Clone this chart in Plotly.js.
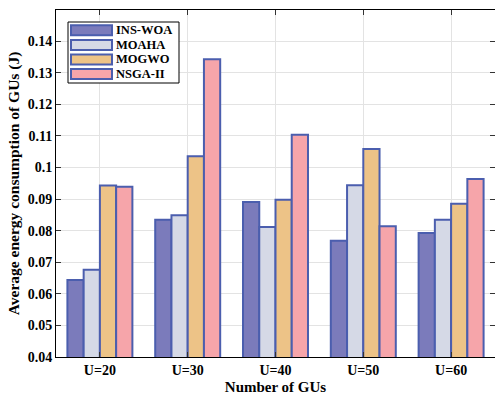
<!DOCTYPE html>
<html>
<head>
<meta charset="utf-8">
<script src="https://cdn.plot.ly/plotly-3.0.1.min.js"></script>
<style>html,body{margin:0;padding:0;background:#fff;}#chart{width:495px;height:396px;}</style>
</head>
<body>
<div id="chart"></div>
<script>
var categories = ["U=20", "U=30", "U=40", "U=50", "U=60"];
var seriesNames = ["INS-WOA", "MOAHA", "MOGWO", "NSGA-II"];
var insWoa = [0.0644, 0.0835, 0.0891, 0.0768, 0.0793];
var moaha  = [0.0676, 0.0849, 0.0812, 0.0944, 0.0835];
var mogwo  = [0.0943, 0.1036, 0.0898, 0.1059, 0.0885];
var nsga2  = [0.0939, 0.1343, 0.1104, 0.0814, 0.0964];
var seriesValues = [insWoa, moaha, mogwo, nsga2];
var colors = ["#7b7bbb", "#d5d9e6", "#edc387", "#f6a5aa"];
var edgeColor = "#4b5eae";

var W = 495, H = 396, mL = 56, mR = 0, mT = 10, mB = 39;
var pw = W - mL - mR, ph = H - mT - mB;
function px(x){ return (x - mL) / pw; }
function py(y){ return (H - mB - y) / ph; }

var font = "Liberation Serif, Times New Roman, serif";
var traces = seriesNames.map(function(n, i){
  return {
    type: "bar", name: n, x: categories, y: seriesValues[i],
    marker: {color: colors[i], line: {color: edgeColor, width: 2}},
    showlegend: false
  };
});

var shapes = [{type:"rect", xref:"paper", yref:"paper", x0:px(68), x1:px(179), y0:py(83), y1:py(22),
  line:{color:"#000", width:1}, fillcolor:"#fff", layer:"above"}];
var annotations = [];
seriesNames.forEach(function(n, i){
  var cy = 30.3 + i * 14.6;
  shapes.push({type:"rect", xref:"paper", yref:"paper", x0:px(71), x1:px(112), y0:py(cy+5), y1:py(cy-5),
    line:{color:edgeColor, width:2}, fillcolor:colors[i], layer:"above"});
  annotations.push({xref:"paper", yref:"paper", x:px(114), y:py(cy), xanchor:"left", yanchor:"middle",
    text:"<b>"+n+"</b>", showarrow:false, font:{family:font, size:12.5, color:"#000"}});
});

var layout = {
  width: W, height: H,
  margin: {l: mL, r: mR, t: mT, b: mB},
  paper_bgcolor: "#fff", plot_bgcolor: "#fff",
  barmode: "group", bargap: 0.26, bargroupgap: 0,
  font: {family: font, size: 13, color: "#000"},
  xaxis: {
    range: [-0.5, 4.5], showgrid: true, gridcolor: "#e3e3e3", gridwidth: 1,
    showline: true, linecolor: "#000", linewidth: 1, mirror: "ticks",
    ticks: "inside", ticklen: 5, tickcolor: "#333",
    tickfont: {family: font, size: 14, color: "#000", weight: "bold"},
    title: {text: "<b>Number of GUs</b>", font: {family: font, size: 15, color: "#000"}, standoff: 4},
    zeroline: false
  },
  yaxis: {
    range: [0.04, 0.1499], dtick: 0.01, tick0: 0.04,
    showgrid: true, gridcolor: "#e3e3e3", gridwidth: 1,
    showline: true, linecolor: "#000", linewidth: 1, mirror: "ticks",
    ticks: "inside", ticklen: 5, tickcolor: "#333",
    tickfont: {family: font, size: 14, color: "#000", weight: "bold"},
    title: {text: "<b>Average energy consumption of GUs (J)</b>", font: {family: font, size: 15.5, color: "#000"}, standoff: 4},
    zeroline: false
  },
  shapes: shapes,
  annotations: annotations
};
Plotly.newPlot("chart", traces, layout, {displayModeBar: false, staticPlot: true});
</script>
</body>
</html>
